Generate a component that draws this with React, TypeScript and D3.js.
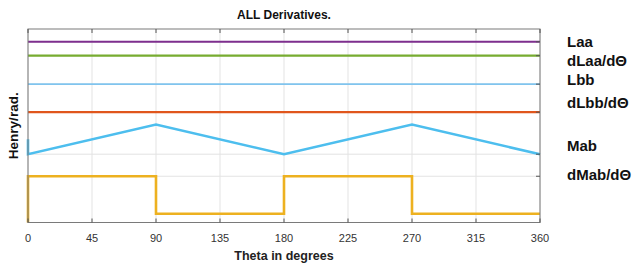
import * as d3 from "d3"

// x tick values (degrees)
const xTicks = [0, 45, 90, 135, 180, 225, 270, 315, 360]

// constant series (arbitrary offset units)
const laa = [{ t: 0, v: 9.34 }, { t: 360, v: 9.34 }]
const dLaa = [{ t: 0, v: 8.62 }, { t: 360, v: 8.62 }]
const lbb = [{ t: 0, v: 7.15 }, { t: 360, v: 7.15 }]
const dLbb = [{ t: 0, v: 5.7 }, { t: 360, v: 5.7 }]

// Mab triangle wave
const mab = [
  { t: 0, v: 4.3 },
  { t: 0, v: 3.53 },
  { t: 90, v: 5.06 },
  { t: 180, v: 3.53 },
  { t: 270, v: 5.06 },
  { t: 360, v: 3.53 },
]

// dMab/dθ square wave
const dMab = [
  { t: 0, v: 0 },
  { t: 0, v: 2.39 },
  { t: 90, v: 2.39 },
  { t: 90, v: 0.45 },
  { t: 180, v: 0.45 },
  { t: 180, v: 2.39 },
  { t: 270, v: 2.39 },
  { t: 270, v: 0.45 },
  { t: 360, v: 0.45 },
]

const yGrid = [2.39, 3.53, 5.7, 7.15, 8.62, 9.34]

const series = [
  { name: "Laa", data: laa, color: "#7E2F8E", width: 2, labelY: 43 },
  { name: "dLaa/dΘ", data: dLaa, color: "#77AC30", width: 2.2, labelY: 62 },
  { name: "Lbb", data: lbb, color: "#80C4EE", width: 1.6, labelY: 81 },
  { name: "dLbb/dΘ", data: dLbb, color: "#E0561C", width: 2.2, labelY: 104 },
  { name: "Mab", data: mab, color: "#4DBEEE", width: 2.6, labelY: 147 },
  { name: "dMab/dΘ", data: dMab, color: "#EDB120", width: 2.6, labelY: 176 },
]

export default function App() {
  const margin = { top: 29, left: 28, right: 540, bottom: 222.5 }
  const x = d3.scaleLinear().domain([0, 360]).range([margin.left, margin.right])
  const y = d3.scaleLinear().domain([0, 10]).range([margin.bottom, margin.bottom - 193.5])

  const line = d3
    .line<{ t: number; v: number }>()
    .x((d) => x(d.t))
    .y((d) => y(d.v))

  const font = "Arial, 'Liberation Sans', sans-serif"

  return (
    <svg
      width={640}
      height={264}
      style={{ position: "absolute", left: 0, top: 0, background: "#fff" }}
      fontFamily={font}
    >
      {/* grid */}
      {xTicks.map((t) => (
        <line key={"gx" + t} x1={x(t)} x2={x(t)} y1={margin.top} y2={margin.bottom} stroke="#e3e3e3" strokeWidth={1} />
      ))}
      {yGrid.map((v) => (
        <line key={"gy" + v} x1={margin.left} x2={margin.right} y1={y(v)} y2={y(v)} stroke="#e3e3e3" strokeWidth={1} />
      ))}

      {/* series */}
      {series.map((s) => (
        <path key={s.name} d={line(s.data) || ""} fill="none" stroke={s.color} strokeWidth={s.width} strokeLinejoin="miter" />
      ))}

      {/* box */}
      <rect
        x={margin.left}
        y={margin.top}
        width={margin.right - margin.left}
        height={margin.bottom - margin.top}
        fill="none"
        stroke="#7a7a7a"
        strokeWidth={1}
      />

      {/* ticks */}
      {xTicks.map((t) => (
        <g key={"tk" + t}>
          <line x1={x(t)} x2={x(t)} y1={margin.top} y2={margin.top + 4} stroke="#555" />
          <line x1={x(t)} x2={x(t)} y1={margin.bottom} y2={margin.bottom - 4} stroke="#555" />
        </g>
      ))}
      {yGrid.map((v) => (
        <line key={"ty" + v} x1={margin.right} x2={margin.right - 4} y1={y(v)} y2={y(v)} stroke="#555" />
      ))}

      {/* tick labels */}
      {xTicks.map((t) => (
        <text key={"tl" + t} x={x(t)} y={242} textAnchor="middle" fontSize={11} fill="#333">
          {t}
        </text>
      ))}

      {/* title */}
      <text x={284} y={19} textAnchor="middle" fontSize={12} fontWeight="bold" fill="#111">
        ALL Derivatives.
      </text>

      {/* x label */}
      <text x={284} y={260} textAnchor="middle" fontSize={12.5} fontWeight="bold" fill="#222">
        Theta in degrees
      </text>

      {/* y label */}
      <text
        transform={`translate(18,${(margin.top + margin.bottom) / 2}) rotate(-90)`}
        textAnchor="middle"
        fontSize={13.5}
        fontWeight="bold"
        fill="#111"
      >
        Henry/rad.
      </text>

      {/* labels on the right */}
      {series.map((s) => (
        <text key={"lb" + s.name} x={567} y={s.labelY} dominantBaseline="middle" fontSize={15} fontWeight="bold" fill="#111">
          {s.name}
        </text>
      ))}
    </svg>
  )
}
